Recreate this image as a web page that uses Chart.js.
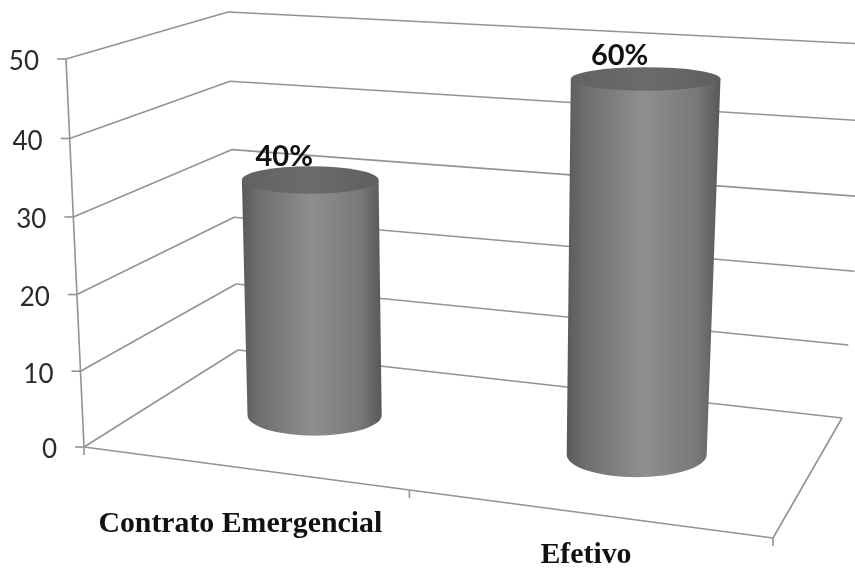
<!DOCTYPE html>
<html>
<head>
<meta charset="utf-8">
<script src="https://cdn.jsdelivr.net/npm/chart.js@4"></script>
<style>
  html, body { margin: 0; background: #fff; }
  canvas { display: block; }
</style>
</head>
<body>
<canvas id="chart" width="855" height="568"></canvas>
<script>
const categories = ['Contrato Emergencial', 'Efetivo'];
const values = [32, 48];
const yTicks = [0, 10, 20, 30, 40, 50];

// corners of the 3D box on the canvas: front-left, front-right, back-right, back-left
const floorQuad = [[84, 447], [773, 538], [842, 418], [238, 350]];
const roofQuad = [[66, 59], [779, 104], [874, 44.5], [228, 12]];
const barDepth = 0.48;      // how far back the cylinders stand
const barDepthRadius = 0.2;
const barNudge = 2;         // cylinders sit a touch right of the category centre
const barLean = 5;          // and lean right towards the roof
const heightPerspective = 0.03; // upper part of the walls reads slightly taller
const labelDrop = [64, 50]; // category label baseline under the front edge
const labelShift = [-2, 0];
const lineColor = '#939393';

function homography(q) {
  const [p0, p1, p2, p3] = q;
  const dx1 = p1[0] - p2[0], dx2 = p3[0] - p2[0], sx = p0[0] - p1[0] + p2[0] - p3[0];
  const dy1 = p1[1] - p2[1], dy2 = p3[1] - p2[1], sy = p0[1] - p1[1] + p2[1] - p3[1];
  const det = dx1 * dy2 - dx2 * dy1;
  const g = (sx * dy2 - dx2 * sy) / det;
  const h = (dx1 * sy - sx * dy1) / det;
  const a = p1[0] - p0[0] + g * p1[0], b = p3[0] - p0[0] + h * p3[0];
  const d = p1[1] - p0[1] + g * p1[1], e = p3[1] - p0[1] + h * p3[1];
  return (u, w) => {
    const k = g * u + h * w + 1;
    return [(a * u + b * w + p0[0]) / k, (d * u + e * w + p0[1]) / k];
  };
}

const floorAt = homography(floorQuad);
const roofAt = homography(roofQuad);

// u along the categories, v up the value axis, w into the depth (all 0..1)
function project(u, v, w) {
  const f = floorAt(u, w), r = roofAt(u, w);
  const t = v / (1 + heightPerspective * (1 - v));
  return [f[0] + (r[0] - f[0]) * t, f[1] + (r[1] - f[1]) * t];
}

function line(ctx, a, b) {
  ctx.beginPath();
  ctx.moveTo(a[0], a[1]);
  ctx.lineTo(b[0], b[1]);
  ctx.stroke();
}

function drawBox(chart) {
  const ctx = chart.ctx, y = chart.scales.y;
  const area = chart.chartArea;
  ctx.save();
  ctx.strokeStyle = lineColor;
  ctx.lineWidth = 1.6;

  // floor outline
  line(ctx, project(0, 0, 0), project(1, 0, 0));
  line(ctx, project(1, 0, 0), project(1, 0, 1));

  // gridlines across the side and back walls, plus the value labels
  ctx.font = '26px Lato';
  ctx.fillStyle = '#2a2a2a';
  ctx.textAlign = 'right';
  ctx.textBaseline = 'middle';
  yTicks.forEach(t => {
    const v = (area.bottom - y.getPixelForValue(t)) / area.height;
    const front = project(0, v, 0), back = project(0, v, 1);
    line(ctx, front, back);
    line(ctx, back, project(1, v, 1));
    line(ctx, front, [front[0] - 9, front[1]]);
    ctx.fillText(String(t), front[0] - 27, front[1] + 3);
  });
  line(ctx, project(0, 0, 0), project(0, 1, 0));

  // category ticks under the front edge
  [0, 0.5, 1].forEach(u => {
    const p = project(u, 0, 0);
    line(ctx, p, [p[0], p[1] + 8]);
  });
  ctx.restore();
}

function drawCylinder(chart, bar, i, total) {
  const ctx = chart.ctx, area = chart.chartArea;
  const u = (bar.x - area.left) / area.width;
  const du = bar.width / area.width / 2;
  const v = (area.bottom - bar.y) / area.height;
  const taper = 0.99 - 0.12 * (u - 0.5); // keeps the far-right cylinder from ballooning
  const ellipseAt = lv => {
    const c = project(u, lv, barDepth);
    const rx = (project(u + du, lv, barDepth)[0] - project(u - du, lv, barDepth)[0]) / 2 * taper;
    const ry = (project(u, lv, barDepth - barDepthRadius)[1] - project(u, lv, barDepth + barDepthRadius)[1]) / 2;
    return { x: c[0] + barNudge + barLean * lv, y: c[1], rx, ry };
  };
  const top = ellipseAt(v), base = ellipseAt(0);

  const left = Math.min(top.x - top.rx, base.x - base.rx);
  const right = Math.max(top.x + top.rx, base.x + base.rx);
  const body = ctx.createLinearGradient(left, 0, right, 0);
  body.addColorStop(0, '#5a5a5a');
  body.addColorStop(0.12, '#6e6e6e');
  body.addColorStop(0.5, '#8f8f8f');
  body.addColorStop(0.85, '#787878');
  body.addColorStop(1, '#585858');

  ctx.save();
  ctx.fillStyle = body;
  ctx.beginPath();
  ctx.moveTo(top.x - top.rx, top.y);
  ctx.lineTo(base.x - base.rx, base.y);
  ctx.ellipse(base.x, base.y, base.rx, base.ry, 0, Math.PI, 0, true);
  ctx.lineTo(top.x + top.rx, top.y);
  ctx.closePath();
  ctx.fill();

  const cap = ctx.createLinearGradient(top.x - top.rx, 0, top.x + top.rx, 0);
  cap.addColorStop(0, '#626262');
  cap.addColorStop(0.5, '#6b6b6b');
  cap.addColorStop(1, '#5f5f5f');
  ctx.fillStyle = cap;
  ctx.beginPath();
  ctx.ellipse(top.x, top.y, top.rx, top.ry, 0, 0, Math.PI * 2);
  ctx.fill();

  // share of the total, above the cap
  ctx.font = 'bold 29px Lato';
  ctx.fillStyle = '#111';
  ctx.textAlign = 'center';
  ctx.textBaseline = 'alphabetic';
  ctx.fillText(Math.round(values[i] / total * 100) + '%', top.x - 26, top.y - 14);

  // category name under the front edge
  const front = project(u, 0, 0);
  ctx.font = 'bold 29.8px "Liberation Serif"';
  ctx.fillText(categories[i], front[0] + labelShift[i], front[1] + labelDrop[i]);
  ctx.restore();
}

const cylinders = {
  id: 'cylinders',
  beforeDatasetDraw(chart, args) {
    drawBox(chart);
    const total = values.reduce((a, b) => a + b, 0);
    args.meta.data.forEach((bar, i) => drawCylinder(chart, bar, i, total));
    return false; // the flat bars are replaced by the cylinders
  }
};

new Chart(document.getElementById('chart'), {
  type: 'bar',
  data: {
    labels: categories,
    datasets: [{ data: values, barPercentage: 0.43, categoryPercentage: 1 }]
  },
  options: {
    responsive: false,
    animation: false,
    layout: { padding: 0 },
    plugins: { legend: { display: false }, tooltip: { enabled: false } },
    scales: {
      x: { display: false },
      y: { display: false, min: 0, max: 50, ticks: { stepSize: 10 } }
    }
  },
  plugins: [cylinders]
});
</script>
</body>
</html>
